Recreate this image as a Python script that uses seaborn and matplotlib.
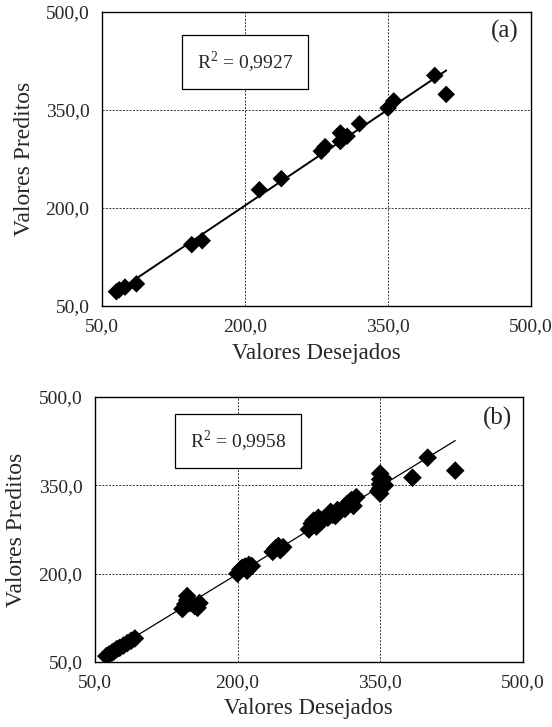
import matplotlib
matplotlib.use("Agg")
import matplotlib.pyplot as plt
import pandas as pd
import seaborn as sns

# painel (a)
desejados_a = [65, 68, 74, 86, 144, 155, 215, 238, 280, 284, 300, 300, 307, 320, 350, 356, 399, 411]
preditos_a = [72, 75, 79, 84, 144, 150, 228, 245, 287, 294, 302, 315, 310, 329, 353, 364, 403, 374]

# painel (b)
desejados_b = [62, 65, 68, 70, 73, 76, 80, 84, 88, 92,
               142, 145, 147, 150, 155, 158, 160, 147,
               200, 203, 205, 208, 210, 212, 215,
               237, 240, 243, 245, 248,
               275, 278, 280, 283, 285, 288, 290,
               295, 298, 300, 303, 305,
               313, 315, 318, 320, 322, 325,
               348, 350, 350, 350, 350, 352, 355, 353, 350,
               384, 400, 429]
preditos_b = [60, 63, 66, 68, 72, 74, 78, 82, 86, 90,
              140, 148, 155, 150, 145, 142, 150, 162,
              200, 207, 210, 212, 205, 215, 213,
              237, 243, 247, 240, 245,
              275, 285, 290, 280, 295, 288, 292,
              295, 305, 300, 298, 308,
              310, 318, 322, 325, 315, 330,
              340, 345, 352, 360, 370, 355, 350, 362, 336,
              363, 397, 375]

ticks = [50, 200, 350, 500]
tick_labels = ["50,0", "200,0", "350,0", "500,0"]
r2_labels = ["R$^2$ = 0,9927", "R$^2$ = 0,9958"]
letras = ["(a)", "(b)"]

sns.set_style("white")
plt.rcParams["font.family"] = ["Liberation Serif", "DejaVu Serif"]
plt.rcParams["mathtext.fontset"] = "custom"
plt.rcParams["mathtext.rm"] = "Liberation Serif"

fig = plt.figure(figsize=(5.52, 7.27), dpi=100)
ax_a = fig.add_axes([0.185, 0.579, 0.777, 0.4044])
ax_b = fig.add_axes([0.172, 0.0894, 0.775, 0.3645])

paineis = [
    (ax_a, desejados_a, preditos_a, 1.4, 80, (0.333, 0.83), (0.97, 0.935)),
    (ax_b, desejados_b, preditos_b, 0.9, 90, (0.334, 0.834), (0.975, 0.92)),
]

for i, (ax, xs, ys, lw, msize, r2_pos, let_pos) in enumerate(paineis):
    df = pd.DataFrame({"x": xs, "y": ys})
    sns.regplot(
        data=df, x="x", y="y", ax=ax, ci=None, marker="D",
        scatter_kws={"s": msize, "color": "black", "edgecolor": "none", "alpha": 1},
        line_kws={"color": "black", "linewidth": lw},
    )
    ax.set_xlim(50, 500)
    ax.set_ylim(50, 500)
    ax.set_xticks(ticks)
    ax.set_xticklabels(tick_labels)
    ax.set_yticks(ticks)
    ax.set_yticklabels(tick_labels)
    ax.tick_params(axis="both", length=0, labelsize=14, pad=9)
    ax.grid(True, linestyle=(0, (2, 1.5)), color="#333333", linewidth=0.7)
    for sp in ax.spines.values():
        sp.set_visible(True)
        sp.set_color("black")
        sp.set_linewidth(1.0)
    ax.set_xlabel("Valores Desejados", fontsize=16.5, labelpad=5)
    ax.set_ylabel("Valores Preditos", fontsize=17, labelpad=8)
    ax.text(r2_pos[0], r2_pos[1], r2_labels[i], transform=ax.transAxes,
            ha="center", va="center", fontsize=14,
            bbox={"facecolor": "white", "edgecolor": "black", "linewidth": 0.9,
                  "boxstyle": "square,pad=0.75"})
    ax.text(let_pos[0], let_pos[1], letras[i], transform=ax.transAxes,
            ha="right", va="center", fontsize=18)

fig.savefig("out.png", dpi=100)
plt.close(fig)
